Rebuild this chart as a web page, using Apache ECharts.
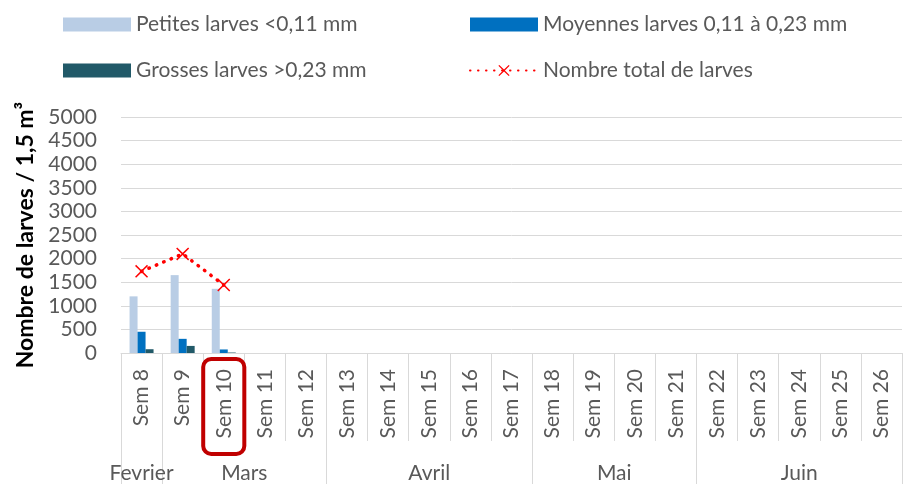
<!DOCTYPE html>
<html>
<head>
<meta charset="utf-8">
<script src="https://cdn.jsdelivr.net/npm/echarts@6/dist/echarts.min.js"></script>
<style>html,body{margin:0;padding:0;background:#fff}#c{width:908px;height:484px}</style>
</head>
<body>
<div id="c"></div>
<script>
const weeks = ['Sem 8','Sem 9','Sem 10','Sem 11','Sem 12','Sem 13','Sem 14','Sem 15','Sem 16','Sem 17','Sem 18','Sem 19','Sem 20','Sem 21','Sem 22','Sem 23','Sem 24','Sem 25','Sem 26'];
const months = ['Fevrier','Mars','Avril','Mai','Juin'];
const monthWeekCounts = [1,4,5,4,5];
const petites = [1200,1650,1360,null,null,null,null,null,null,null,null,null,null,null,null,null,null,null,null];
const moyennes = [450,300,75,null,null,null,null,null,null,null,null,null,null,null,null,null,null,null,null];
const grosses = [80,150,10,null,null,null,null,null,null,null,null,null,null,null,null,null,null,null,null];
const total = [1730,2100,1440,null,null,null,null,null,null,null,null,null,null,null,null,null,null,null,null];
const yTicks = {min:0,max:5000,interval:500};
const highlightWeek = 'Sem 10';

// month group boundaries and centres (in week units)
const boundaries = [0];
const centers = {};
months.forEach((m,i)=>{const s=boundaries[boundaries.length-1];const e=s+monthWeekCounts[i];centers[(s+e)/2]=m;boundaries.push(e);});

const FONT = 'Lato';
const GREY = '#595959';
const LINEC = '#D9D9D9';
const X_PATH = 'path://M0,1.6L1.6,0L10,8.4L18.4,0L20,1.6L11.6,10L20,18.4L18.4,20L10,11.6L1.6,20L0,18.4L8.4,10Z';

const legendText = {color:GREY,fontSize:21,fontFamily:FONT,lineHeight:20,padding:[0,0,0,0]};
const chart = echarts.init(document.getElementById('c'));
const option = {
  animation:false,
  textStyle:{fontFamily:FONT},
  grid:{left:121,right:6,top:117,bottom:131,containLabel:false},
  legend:[
    {data:[{name:'Petites larves <0,11 mm',icon:'rect'},{name:'Grosses larves >0,23 mm',icon:'rect'}],left:58,top:9,orient:'vertical',itemWidth:68,itemHeight:14,itemGap:25,
     textStyle:legendText},
    {data:[{name:'Moyennes larves 0,11 à 0,23 mm',icon:'rect'},'Nombre total de larves'],left:464,top:9,orient:'vertical',itemWidth:68,itemHeight:14,itemGap:25,
     textStyle:legendText}
  ],
  xAxis:[
    {type:'category',data:weeks,position:'bottom',
     axisLine:{show:true,lineStyle:{color:LINEC,width:1}},
     axisTick:{show:true,length:88,lineStyle:{color:LINEC,width:1}},
     axisLabel:{rotate:90,color:GREY,fontSize:21,fontFamily:FONT,margin:16,interval:0}},
    {type:'category',data:weeks,position:'bottom',
     axisLine:{show:false},
     axisLabel:{show:false},
     axisTick:{show:true,length:131,interval:function(i){return boundaries.indexOf(i)>=0;},lineStyle:{color:LINEC,width:1}}},
    {type:'value',min:0,max:weeks.length,interval:0.5,position:'bottom',offset:100,
     axisLine:{show:false},axisTick:{show:false},splitLine:{show:false},
     axisLabel:{color:GREY,fontSize:21,fontFamily:FONT,margin:10,showMinLabel:true,showMaxLabel:true,
       formatter:function(v){return centers[v]||'';}}}
  ],
  yAxis:{type:'value',min:yTicks.min,max:yTicks.max,interval:yTicks.interval,
    name:'Nombre de larves / 1,5 m³',nameLocation:'middle',nameGap:84,
    nameTextStyle:{color:'#000',fontWeight:'bold',fontSize:23,fontFamily:FONT},
    axisLine:{show:false},axisTick:{show:false},
    axisLabel:{color:GREY,fontSize:21,fontFamily:FONT,margin:24,formatter:function(v){return String(v);}},
    splitLine:{lineStyle:{color:LINEC,width:1}}},
  series:[
    {name:'Petites larves <0,11 mm',type:'bar',data:petites,barWidth:8,barGap:'0%',itemStyle:{color:'#B9CDE5'}},
    {name:'Moyennes larves 0,11 à 0,23 mm',type:'bar',data:moyennes,barWidth:8,barGap:'0%',itemStyle:{color:'#0070C0'}},
    {name:'Grosses larves >0,23 mm',type:'bar',data:grosses,barWidth:8,barGap:'0%',itemStyle:{color:'#215968'}},
    {name:'Nombre total de larves',type:'line',data:total,symbol:X_PATH,symbolSize:13,
     itemStyle:{color:'#FF0000'},
     lineStyle:{color:'#FF0000',width:3.5,type:[0.5,7.5],cap:'round'},z:5}
  ]
};
chart.setOption(option);

// highlight annotation around the selected week label
const cx = chart.convertToPixel({xAxisIndex:0}, highlightWeek);
const nx = chart.convertToPixel({xAxisIndex:0}, weeks[weeks.indexOf(highlightWeek)+1]);
const bw = nx - cx;
const y0 = chart.convertToPixel({yAxisIndex:0}, 0);
chart.setOption({graphic:[{type:'rect',shape:{x:cx-bw/2,y:y0+6,width:bw,height:95,r:8},
  style:{fill:'none',stroke:'#C00000',lineWidth:4},z:100}]});
</script>
</body>
</html>
